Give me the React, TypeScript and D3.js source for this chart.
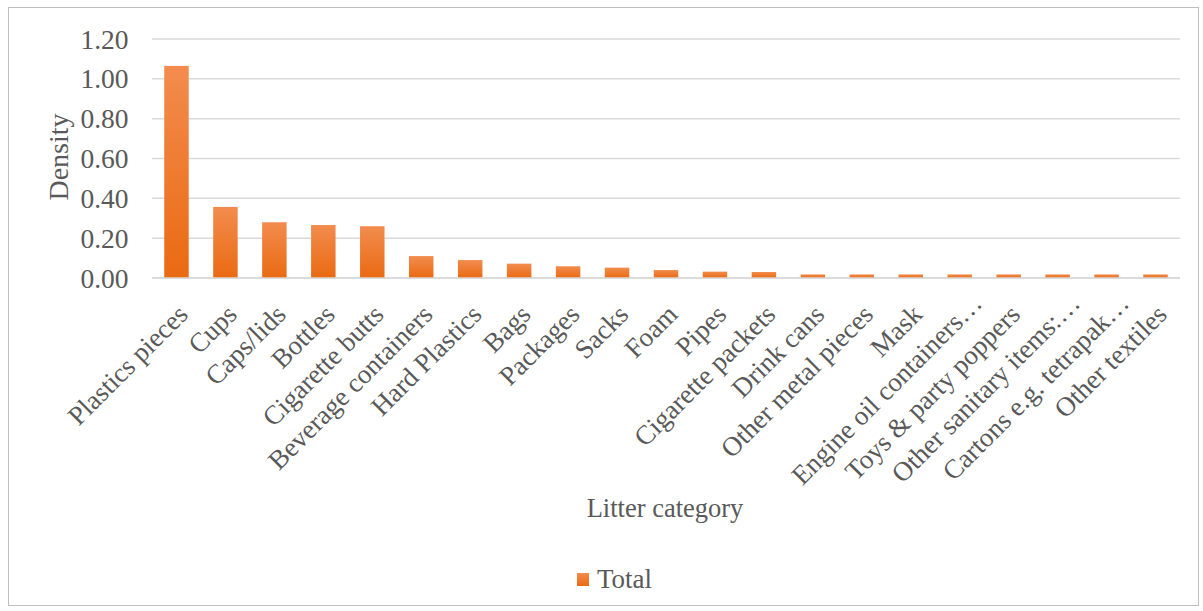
import React from "react";
import * as d3 from "d3";

const categories = [
  "Plastics pieces", "Cups", "Caps/lids", "Bottles", "Cigarette butts",
  "Beverage containers", "Hard Plastics", "Bags", "Packages", "Sacks",
  "Foam", "Pipes", "Cigarette packets", "Drink cans", "Other metal pieces",
  "Mask", "Engine oil containers…", "Toys & party poppers", "Other sanitary items:…",
  "Cartons e.g. tetrapak…", "Other textiles",
];
const totals = [
  1.065, 0.357, 0.28, 0.266, 0.26,
  0.11, 0.09, 0.072, 0.059, 0.052,
  0.04, 0.032, 0.03, 0.018, 0.018,
  0.018, 0.018, 0.018, 0.018, 0.018, 0.018,
];
const yTicks = [0, 0.2, 0.4, 0.6, 0.8, 1.0, 1.2];

const W = 1203, H = 611;
const plot = { left: 152, right: 1180, top: 39, bottom: 278 };
const FONT = "Liberation Serif";

export default function App() {
  const x = d3.scaleBand<string>().domain(categories).range([plot.left, plot.right]).paddingInner(0.5).paddingOuter(0.25);
  const y = d3.scaleLinear().domain([0, 1.2]).range([plot.bottom, plot.top]);
  const grey = "#595959";
  const ts = { fontFamily: FONT };
  return (
    <svg width={W} height={H} style={{ position: "absolute", left: 0, top: 0, fontFamily: FONT }}>
      <defs>
        <linearGradient id="barg" x1="0" y1="0" x2="0" y2="1">
          <stop offset="0" stopColor="#F28C4E" />
          <stop offset="1" stopColor="#EA6A12" />
        </linearGradient>
      </defs>
      <rect x={0} y={0} width={W} height={H} fill="#fff" />
      <rect x={8.5} y={7.5} width={1190} height={598} fill="none" stroke="#BFBFBF" strokeWidth={1} />
      {yTicks.map((t) => (
        <g key={t}>
          <line x1={plot.left} x2={plot.right} y1={y(t)} y2={y(t)} stroke="#D9D9D9" strokeWidth={1.5} />
          <text x={128.5} y={y(t)} dy="0.35em" textAnchor="end" fontSize={27.5} fill={grey} style={ts}>{t.toFixed(2)}</text>
        </g>
      ))}
      {categories.map((c, i) => (
        <rect key={c} x={x(c)!} y={y(totals[i])} width={x.bandwidth()} height={y(0) - y(totals[i])} fill="url(#barg)" />
      ))}
      <line x1={plot.left} x2={plot.right} y1={y(0)} y2={y(0)} stroke="#D9D9D9" strokeWidth={1.5} />
      {categories.map((c) => {
        const shift = c.endsWith("…") ? 11 : 0;
        const cx = x(c)! + x.bandwidth() / 2 + 13 + shift;
        const cy = 316 - shift;
        return (
          <text key={c} transform={`translate(${cx},${cy}) rotate(-45)`} textAnchor="end" fontSize={27} fill={grey} style={ts}>{c}</text>
        );
      })}
      <text transform={`translate(68,${157}) rotate(-90)`} textAnchor="middle" fontSize={28} fill={grey} style={ts}>Density</text>
      <text x={665} y={517} textAnchor="middle" fontSize={26.5} fill={grey} style={ts}>Litter category</text>
      <rect x={577} y={573} width={12} height={13} fill="url(#barg)" />
      <text x={597} y={588} fontSize={27} fill={grey} style={ts}>Total</text>
    </svg>
  );
}
